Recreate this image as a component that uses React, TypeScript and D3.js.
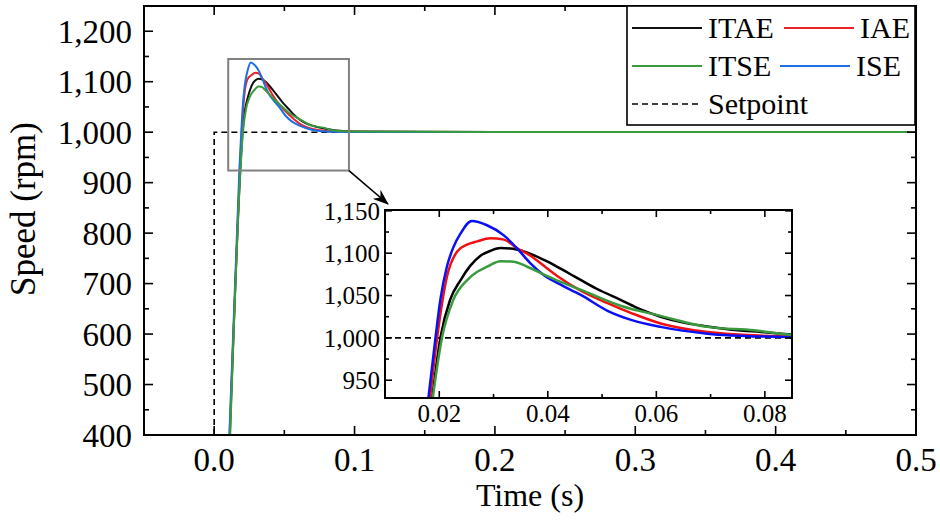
import * as d3 from "d3";

const W = 940;
const H = 522;

// [time (s), speed (rpm)]
const itae: [number, number][] = [
  [0.0112, 400], [0.0187, 929], [0.0202, 1000], [0.022, 1045], [0.0239, 1068],
  [0.0257, 1085], [0.0276, 1097], [0.0295, 1103], [0.0313, 1106], [0.0331, 1105.5],
  [0.0356, 1102], [0.0393, 1092], [0.042, 1083], [0.0448, 1073], [0.049, 1058],
  [0.0534, 1045], [0.057, 1034], [0.0608, 1025], [0.065, 1018], [0.0694, 1013.5],
  [0.075, 1009], [0.0793, 1007], [0.085, 1004], [0.1, 1001.5], [0.15, 1000.6],
  [0.2, 1000.4], [0.3, 1000.3], [0.4, 1000.2], [0.5, 1000.2],
];
const iae: [number, number][] = [
  [0.011, 400], [0.0183, 929], [0.0196, 1000], [0.0214, 1072], [0.0233, 1102],
  [0.0251, 1110], [0.027, 1114], [0.0294, 1117.5], [0.0319, 1116], [0.0343, 1106],
  [0.0368, 1097], [0.0399, 1082], [0.042, 1072], [0.046, 1056], [0.051, 1041],
  [0.0555, 1029], [0.0608, 1017], [0.065, 1011], [0.0694, 1007], [0.078, 1003],
  [0.085, 1001.5], [0.1, 1000.8], [0.15, 1000.5], [0.2, 1000.4], [0.3, 1000.3],
  [0.4, 1000.2], [0.5, 1000.2],
];
const itse: [number, number][] = [
  [0.0114, 400], [0.0188, 929], [0.0205, 1000], [0.0226, 1045], [0.0251, 1068],
  [0.027, 1078], [0.0288, 1084], [0.0313, 1090.5], [0.0337, 1090], [0.0362, 1084],
  [0.0399, 1073], [0.042, 1067], [0.046, 1057], [0.0534, 1038], [0.0608, 1026],
  [0.0694, 1013], [0.078, 1009], [0.085, 1003.5], [0.1, 1001.5], [0.15, 1000.7],
  [0.2, 1000.5], [0.3, 1000.4], [0.4, 1000.3], [0.5, 1000.3],
];
const ise: [number, number][] = [
  [0.0108, 400], [0.018, 929], [0.0193, 1000], [0.0202, 1045], [0.0214, 1084],
  [0.0226, 1107], [0.0239, 1123], [0.026, 1138], [0.0288, 1133], [0.0319, 1121],
  [0.0343, 1106], [0.0368, 1088], [0.0393, 1074], [0.042, 1064], [0.046, 1051],
  [0.051, 1032], [0.0555, 1021], [0.0608, 1013], [0.0694, 1005], [0.08, 1001.5],
  [0.085, 1001], [0.1, 1000.5], [0.2, 1000.3], [0.3, 1000.2], [0.4, 1000.2],
  [0.5, 1000.2],
];
const setpoint: [number, number][] = [[0, 400], [0, 1000], [0.5, 1000]];

const seriesNames = ["ITAE", "IAE", "ITSE", "ISE"];

const mainXTicks = [0, 0.1, 0.2, 0.3, 0.4, 0.5];
const mainXMinor = [0.05, 0.15, 0.25, 0.35, 0.45];
const mainYTicks = [400, 500, 600, 700, 800, 900, 1000, 1100, 1200];
const mainYMinor = [450, 550, 650, 750, 850, 950, 1050, 1150];
const insetXTicks = [0.02, 0.04, 0.06, 0.08];
const insetXMinor = [0.01, 0.03, 0.05, 0.07];
const insetYTicks = [950, 1000, 1050, 1100, 1150];
const insetYMinor = [975, 1025, 1075, 1125];

// zoomed region marked on the main plot
const zoomT = [0.01, 0.096];
const zoomV = [924, 1145];

const FONT = "Liberation Serif, Times New Roman, DejaVu Serif, serif";

export default function App() {
  const x = d3.scaleLinear().domain([-0.05, 0.5]).range([144, 916]);
  const y = d3.scaleLinear().domain([400, 1250]).range([435, 6]);
  const ix = d3.scaleLinear().domain([0.01, 0.085]).range([385, 792]);
  const iy = d3.scaleLinear().domain([929, 1151]).range([398, 210]);

  const mainLine = d3.line<[number, number]>()
    .x(d => x(d[0])).y(d => y(d[1])).curve(d3.curveMonotoneX);
  const insetLine = d3.line<[number, number]>()
    .x(d => ix(d[0])).y(d => iy(d[1])).curve(d3.curveMonotoneX);
  const stepLine = d3.line<[number, number]>().x(d => x(d[0])).y(d => y(d[1]));

  const mainColors = ["#111111", "#e8232a", "#3a9b3e", "#1e6fe3"];
  const insetColors = ["#000000", "#f01010", "#3a9b3e", "#0a10f5"];
  const data = [itae, iae, itse, ise];
  const drawOrder = [0, 1, 3, 2]; // green ends up on top

  const [x0, x1] = x.range();
  const [y0, y1] = y.range();
  const [ix0, ix1] = ix.range();
  const [iy0, iy1] = iy.range();

  const zx0 = x(zoomT[0]), zx1 = x(zoomT[1]);
  const zy0 = y(zoomV[1]), zy1 = y(zoomV[0]);

  const fx = d3.format(".1f");
  const fy = d3.format(",");
  const fix = d3.format(".2f");

  return (
    <svg width={W} height={H}
      style={{ position: "absolute", left: 0, top: 0, background: "#fff", fontFamily: FONT }}>
      <defs>
        <clipPath id="mainClip"><rect x={x0} y={y1} width={x1 - x0} height={y0 - y1} /></clipPath>
        <clipPath id="insetClip"><rect x={ix0} y={iy1} width={ix1 - ix0} height={iy0 - iy1} /></clipPath>
        <marker id="arrow" viewBox="0 -6 16 12" refX={15} refY={0} markerWidth={16} markerHeight={12}
          markerUnits="userSpaceOnUse" orient="auto">
          <path d="M0,-6 L16,0 L0,6 L5,0 Z" fill="#000" />
        </marker>
      </defs>

      {/* main plot */}
      <g clipPath="url(#mainClip)">
        <path d={stepLine(setpoint) ?? ""} fill="none" stroke="#000" strokeWidth={1.6} strokeDasharray="6,4" />
        {drawOrder.map(i => (
          <path key={i} d={mainLine(data[i]) ?? ""} fill="none" stroke={mainColors[i]} strokeWidth={2} />
        ))}
      </g>

      <rect x={zx0} y={zy0} width={zx1 - zx0} height={zy1 - zy0} fill="none" stroke="#808080" strokeWidth={2} />
      <line x1={zx1} y1={zy1} x2={ix0 + 3} y2={iy1 - 6} stroke="#000" strokeWidth={1.6} markerEnd="url(#arrow)" />

      {/* main ticks, inward on all sides */}
      <g stroke="#000" strokeWidth={1.6}>
        {mainXTicks.map(t => (
          <g key={"mx" + t}>
            <line x1={x(t)} x2={x(t)} y1={y0} y2={y0 - 9} />
            <line x1={x(t)} x2={x(t)} y1={y1} y2={y1 + 9} />
          </g>
        ))}
        {mainXMinor.map(t => (
          <g key={"mxm" + t}>
            <line x1={x(t)} x2={x(t)} y1={y0} y2={y0 - 5} />
            <line x1={x(t)} x2={x(t)} y1={y1} y2={y1 + 5} />
          </g>
        ))}
        {mainYTicks.map(v => (
          <g key={"my" + v}>
            <line x1={x0} x2={x0 + 9} y1={y(v)} y2={y(v)} />
            <line x1={x1} x2={x1 - 9} y1={y(v)} y2={y(v)} />
          </g>
        ))}
        {mainYMinor.map(v => (
          <g key={"mym" + v}>
            <line x1={x0} x2={x0 + 5} y1={y(v)} y2={y(v)} />
            <line x1={x1} x2={x1 - 5} y1={y(v)} y2={y(v)} />
          </g>
        ))}
      </g>
      <rect x={x0} y={y1} width={x1 - x0} height={y0 - y1} fill="none" stroke="#000" strokeWidth={2} />

      <g fontSize={33} fill="#000" style={{ fontFamily: FONT }}>
        {mainXTicks.map(t => (
          <text key={"lx" + t} x={x(t)} y={471} textAnchor="middle">{fx(t)}</text>
        ))}
        {mainYTicks.map(v => (
          <text key={"ly" + v} x={x0 - 12} y={y(v)} dy="0.35em" textAnchor="end">{fy(v)}</text>
        ))}
        <text x={(x0 + x1) / 2} y={506} textAnchor="middle" fontSize={32}>Time (s)</text>
        <text transform={`translate(35,209) rotate(-90)`} textAnchor="middle" fontSize={35}>Speed (rpm)</text>
      </g>

      {/* legend */}
      <rect x={627} y={y1} width={x1 - 1 - 627} height={119} fill="#fff" stroke="#000" strokeWidth={1.6} />
      <g fontSize={30} fill="#000" style={{ fontFamily: FONT }}>
        {seriesNames.map((name, i) => {
          const col = i % 2;
          const row = Math.floor(i / 2);
          const lx = col === 0 ? 632 : (i === 1 ? 784 : 780);
          const ly = 28 + row * 38;
          return (
            <g key={name}>
              <line x1={lx} x2={lx + 70} y1={ly} y2={ly} stroke={mainColors[i]} strokeWidth={2} />
              <text x={lx + 76} y={ly + 10}>{name}</text>
            </g>
          );
        })}
        <line x1={632} x2={702} y1={104} y2={104} stroke="#000" strokeWidth={1.6} strokeDasharray="6,4" />
        <text x={708} y={114}>Setpoint</text>
      </g>

      {/* inset */}
      <rect x={ix0} y={iy1} width={ix1 - ix0} height={iy0 - iy1} fill="#fff" />
      <g clipPath="url(#insetClip)">
        <line x1={ix0} x2={ix1} y1={iy(1000)} y2={iy(1000)} stroke="#000" strokeWidth={1.8} strokeDasharray="6,4" />
        {drawOrder.map(i => (
          <path key={i} d={insetLine(data[i]) ?? ""} fill="none" stroke={insetColors[i]} strokeWidth={2.5} />
        ))}
      </g>
      <g stroke="#000" strokeWidth={1.6}>
        {insetXTicks.map(t => (
          <g key={"ix" + t}>
            <line x1={ix(t)} x2={ix(t)} y1={iy0} y2={iy0 - 7} />
            <line x1={ix(t)} x2={ix(t)} y1={iy1} y2={iy1 + 7} />
          </g>
        ))}
        {insetXMinor.map(t => (
          <g key={"ixm" + t}>
            <line x1={ix(t)} x2={ix(t)} y1={iy0} y2={iy0 - 4} />
            <line x1={ix(t)} x2={ix(t)} y1={iy1} y2={iy1 + 4} />
          </g>
        ))}
        {insetYTicks.map(v => (
          <g key={"iy" + v}>
            <line x1={ix0} x2={ix0 + 7} y1={iy(v)} y2={iy(v)} />
            <line x1={ix1} x2={ix1 - 7} y1={iy(v)} y2={iy(v)} />
          </g>
        ))}
        {insetYMinor.map(v => (
          <g key={"iym" + v}>
            <line x1={ix0} x2={ix0 + 4} y1={iy(v)} y2={iy(v)} />
            <line x1={ix1} x2={ix1 - 4} y1={iy(v)} y2={iy(v)} />
          </g>
        ))}
      </g>
      <rect x={ix0} y={iy1} width={ix1 - ix0} height={iy0 - iy1} fill="none" stroke="#000" strokeWidth={2} />
      <g fontSize={25} fill="#000" style={{ fontFamily: FONT }}>
        {insetXTicks.map(t => (
          <text key={"ilx" + t} x={ix(t)} y={422} textAnchor="middle">{fix(t)}</text>
        ))}
        {insetYTicks.map(v => (
          <text key={"ily" + v} x={ix0 - 5} y={iy(v)} dy="0.35em" textAnchor="end">{fy(v)}</text>
        ))}
      </g>
    </svg>
  );
}
